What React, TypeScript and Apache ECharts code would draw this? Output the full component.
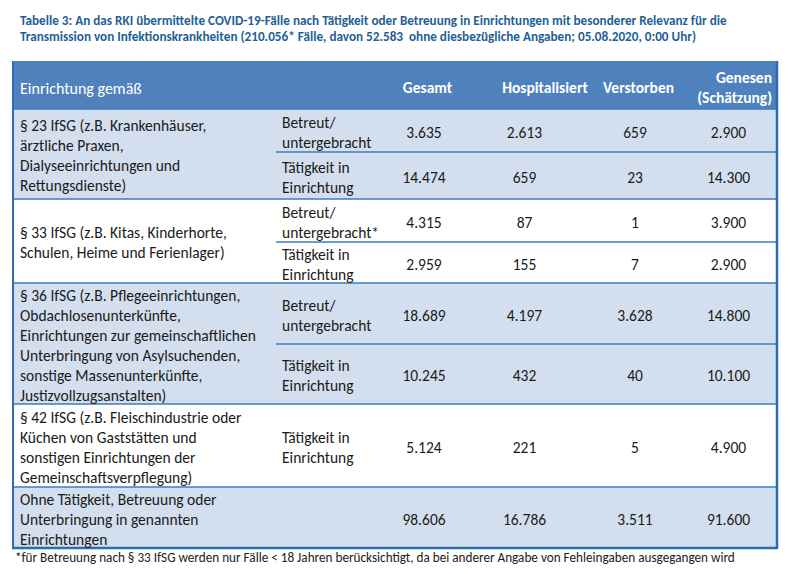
import React, { useEffect, useRef } from "react";
import * as echarts from "echarts";

// ---------- data ----------
const titleLines = [
  "Tabelle 3: An das RKI übermittelte COVID-19-Fälle nach Tätigkeit oder Betreuung in Einrichtungen mit besonderer Relevanz für die",
  "Transmission von Infektionskrankheiten (210.056* Fälle, davon 52.583  ohne diesbezügliche Angaben; 05.08.2020, 0:00 Uhr)",
];
const footnote =
  "*für Betreuung nach § 33 IfSG werden nur Fälle < 18 Jahren berücksichtigt, da bei anderer Angabe von Fehleingaben ausgegangen wird";

const headerFirst = "Einrichtung gemäß";
const headerCols = ["Gesamt", "Hospitalisiert", "Verstorben", "Genesen\n(Schätzung)"];

const groups = [
  "§ 23 IfSG (z.B. Krankenhäuser,\närztliche Praxen,\nDialyseeinrichtungen und\nRettungsdienste)",
  "§ 33 IfSG (z.B. Kitas, Kinderhorte,\nSchulen, Heime und Ferienlager)",
  "§ 36 IfSG (z.B. Pflegeeinrichtungen,\nObdachlosenunterkünfte,\nEinrichtungen zur gemeinschaftlichen\nUnterbringung von Asylsuchenden,\nsonstige Massenunterkünfte,\nJustizvollzugsanstalten)",
  "§ 42 IfSG (z.B. Fleischindustrie oder\nKüchen von Gaststätten und\nsonstigen Einrichtungen der\nGemeinschaftsverpflegung)",
  "Ohne Tätigkeit, Betreuung oder\nUnterbringung in genannten\nEinrichtungen",
];
const rowGroup = [0, 0, 1, 1, 2, 2, 3, 4];
const rowType = [
  "Betreut/\nuntergebracht",
  "Tätigkeit in\nEinrichtung",
  "Betreut/\nuntergebracht*",
  "Tätigkeit in\nEinrichtung",
  "Betreut/\nuntergebracht",
  "Tätigkeit in\nEinrichtung",
  "Tätigkeit in\nEinrichtung",
  "",
];
const gesamt = [3635, 14474, 4315, 2959, 18689, 10245, 5124, 98606];
const hospitalisiert = [2613, 659, 87, 155, 4197, 432, 221, 16786];
const verstorben = [659, 23, 1, 7, 3628, 40, 5, 3511];
const genesen = [2900, 14300, 3900, 2900, 14800, 10100, 4900, 91600];

// ---------- layout (positions in the 798x574 frame, mapped through value axes) ----------
const W = 798;
const H = 574;
const COLS = [12, 276, 389, 459, 590, 680, 777];
const HEADER_TOP = 61;
const ROW_EDGES = [109, 152, 199, 242, 283, 344, 404, 487, 548];
const HEADER_X = [427.5, 545, 638.5, 772];
const HEADER_ALIGN = ["center", "center", "center", "right"];

const FONT = "Carlito, Lato, 'Open Sans', sans-serif";
const HEADER_BLUE = "#4F81BD";
const LIGHT = "#D3DFEE";
const LINE = "#3C7DC0";
const BORDER = "#2C6DB2";
const TEXT = "#1a1a1a";
const BODY_SIZE = 15.5;
const HEAD_SIZE = 15.5;

const fmt = (n: number) => String(n).replace(/\B(?=(\d{3})+(?!\d))/g, ".");

type Item =
  | { kind: "rect"; x0: number; y0: number; x1: number; y1: number; fill: string }
  | { kind: "line"; x0: number; y0: number; x1: number; y1: number; stroke: string; w: number }
  | {
      kind: "text";
      x0: number;
      y0: number;
      x1: number;
      y1: number;
      text: string;
      align: string;
      color: string;
      bold: boolean;
      size: number;
    };

function buildItems(): Item[] {
  const items: Item[] = [];
  const L = COLS[0];
  const R = COLS[COLS.length - 1];
  items.push({ kind: "rect", x0: L, y0: HEADER_TOP, x1: R, y1: ROW_EDGES[0], fill: HEADER_BLUE });

  const spans: { g: number; start: number; end: number }[] = [];
  rowGroup.forEach((g, i) => {
    const last = spans[spans.length - 1];
    if (last && last.g === g) last.end = i;
    else spans.push({ g, start: i, end: i });
  });

  spans.forEach((s, k) => {
    items.push({
      kind: "rect",
      x0: L,
      y0: ROW_EDGES[s.start],
      x1: R,
      y1: ROW_EDGES[s.end + 1],
      fill: k % 2 === 0 ? LIGHT : "#FFFFFF",
    });
  });

  items.push({ kind: "line", x0: L, y0: ROW_EDGES[0], x1: R, y1: ROW_EDGES[0], stroke: LINE, w: 1.5 });
  spans.forEach((s) => {
    for (let r = s.start + 1; r <= s.end; r++) {
      items.push({ kind: "line", x0: COLS[1], y0: ROW_EDGES[r], x1: R, y1: ROW_EDGES[r], stroke: LINE, w: 1.5 });
    }
    const yb = ROW_EDGES[s.end + 1];
    const isLast = s.end === rowGroup.length - 1;
    items.push({ kind: "line", x0: L, y0: yb, x1: R, y1: yb, stroke: isLast ? BORDER : LINE, w: isLast ? 2.5 : 1.5 });
  });
  const bottom = ROW_EDGES[ROW_EDGES.length - 1];
  items.push({ kind: "line", x0: L + 1, y0: HEADER_TOP, x1: L + 1, y1: bottom, stroke: BORDER, w: 2 });
  items.push({ kind: "line", x0: R, y0: HEADER_TOP, x1: R, y1: bottom + 1, stroke: BORDER, w: 2.5 });

  const hy = HEADER_TOP;
  const hy1 = ROW_EDGES[0];
  items.push({ kind: "text", x0: L + 8, y0: hy, x1: L + 8, y1: hy1 + 6, text: headerFirst, align: "left", color: "#fff", bold: false, size: 16 });
  headerCols.forEach((t, i) => {
    items.push({ kind: "text", x0: HEADER_X[i], y0: hy, x1: HEADER_X[i], y1: hy1 + 4, text: t, align: HEADER_ALIGN[i], color: "#fff", bold: true, size: HEAD_SIZE });
  });

  spans.forEach((s) => {
    items.push({
      kind: "text",
      x0: L + 8,
      y0: ROW_EDGES[s.start],
      x1: L + 8,
      y1: ROW_EDGES[s.end + 1] + 3,
      text: groups[s.g],
      align: "left",
      color: TEXT,
      bold: false,
      size: BODY_SIZE,
    });
  });

  const valueCols = [gesamt, hospitalisiert, verstorben, genesen];
  rowType.forEach((t, r) => {
    const y0 = ROW_EDGES[r];
    const y1 = ROW_EDGES[r + 1] + 3;
    if (t) {
      items.push({ kind: "text", x0: COLS[1] + 6, y0, x1: COLS[1] + 6, y1, text: t, align: "left", color: TEXT, bold: false, size: BODY_SIZE });
    }
    valueCols.forEach((arr, c) => {
      const cx = (COLS[c + 2] + COLS[c + 3]) / 2;
      items.push({ kind: "text", x0: cx, y0, x1: cx, y1, text: fmt(arr[r]), align: "center", color: TEXT, bold: false, size: BODY_SIZE });
    });
  });
  return items;
}

export default function App() {
  const ref = useRef<HTMLDivElement>(null);
  useEffect(() => {
    document.body.style.margin = "0";
    if (!ref.current) return;
    const chart = echarts.init(ref.current, undefined, { renderer: "svg" });
    const items = buildItems();
    chart.setOption({
      animation: false,
      backgroundColor: "#ffffff",
      title: [
        {
          text: titleLines.join("\n"),
          left: 20,
          top: 13,
          padding: 0,
          textStyle: { color: "#1F5F96", fontWeight: "bold", fontSize: 13.2, lineHeight: 15.5, fontFamily: FONT },
        },
        {
          text: footnote,
          left: 15,
          top: 549,
          padding: 0,
          textStyle: { color: TEXT, fontWeight: "normal", fontSize: 13.2, lineHeight: 16, fontFamily: FONT },
        },
      ],
      grid: { left: 0, right: 0, top: 0, bottom: 0 },
      xAxis: { type: "value", min: 0, max: W, show: false },
      yAxis: { type: "value", min: 0, max: H, inverse: true, show: false },
      series: [
        {
          type: "custom",
          silent: true,
          clip: false,
          data: items.map((it) => [it.x0, it.y0, it.x1, it.y1]),
          renderItem: (params: any, api: any) => {
            const it = items[params.dataIndex];
            const p0 = api.coord([api.value(0), api.value(1)]);
            const p1 = api.coord([api.value(2), api.value(3)]);
            if (it.kind === "rect") {
              return {
                type: "rect",
                shape: { x: p0[0], y: p0[1], width: p1[0] - p0[0], height: p1[1] - p0[1] },
                style: { fill: it.fill },
              };
            }
            if (it.kind === "line") {
              return {
                type: "line",
                shape: { x1: p0[0], y1: p0[1], x2: p1[0], y2: p1[1] },
                style: { stroke: it.stroke, lineWidth: it.w },
              };
            }
            return {
              type: "text",
              x: p0[0],
              y: (p0[1] + p1[1]) / 2,
              style: {
                text: it.text,
                fill: it.color,
                fontSize: it.size,
                fontFamily: FONT,
                fontWeight: it.bold ? "bold" : "normal",
                align: it.align,
                verticalAlign: "middle",
                lineHeight: 20,
              },
            };
          },
        },
      ],
    });
    return () => chart.dispose();
  }, []);
  return <div ref={ref} style={{ width: W, height: H }} />;
}
